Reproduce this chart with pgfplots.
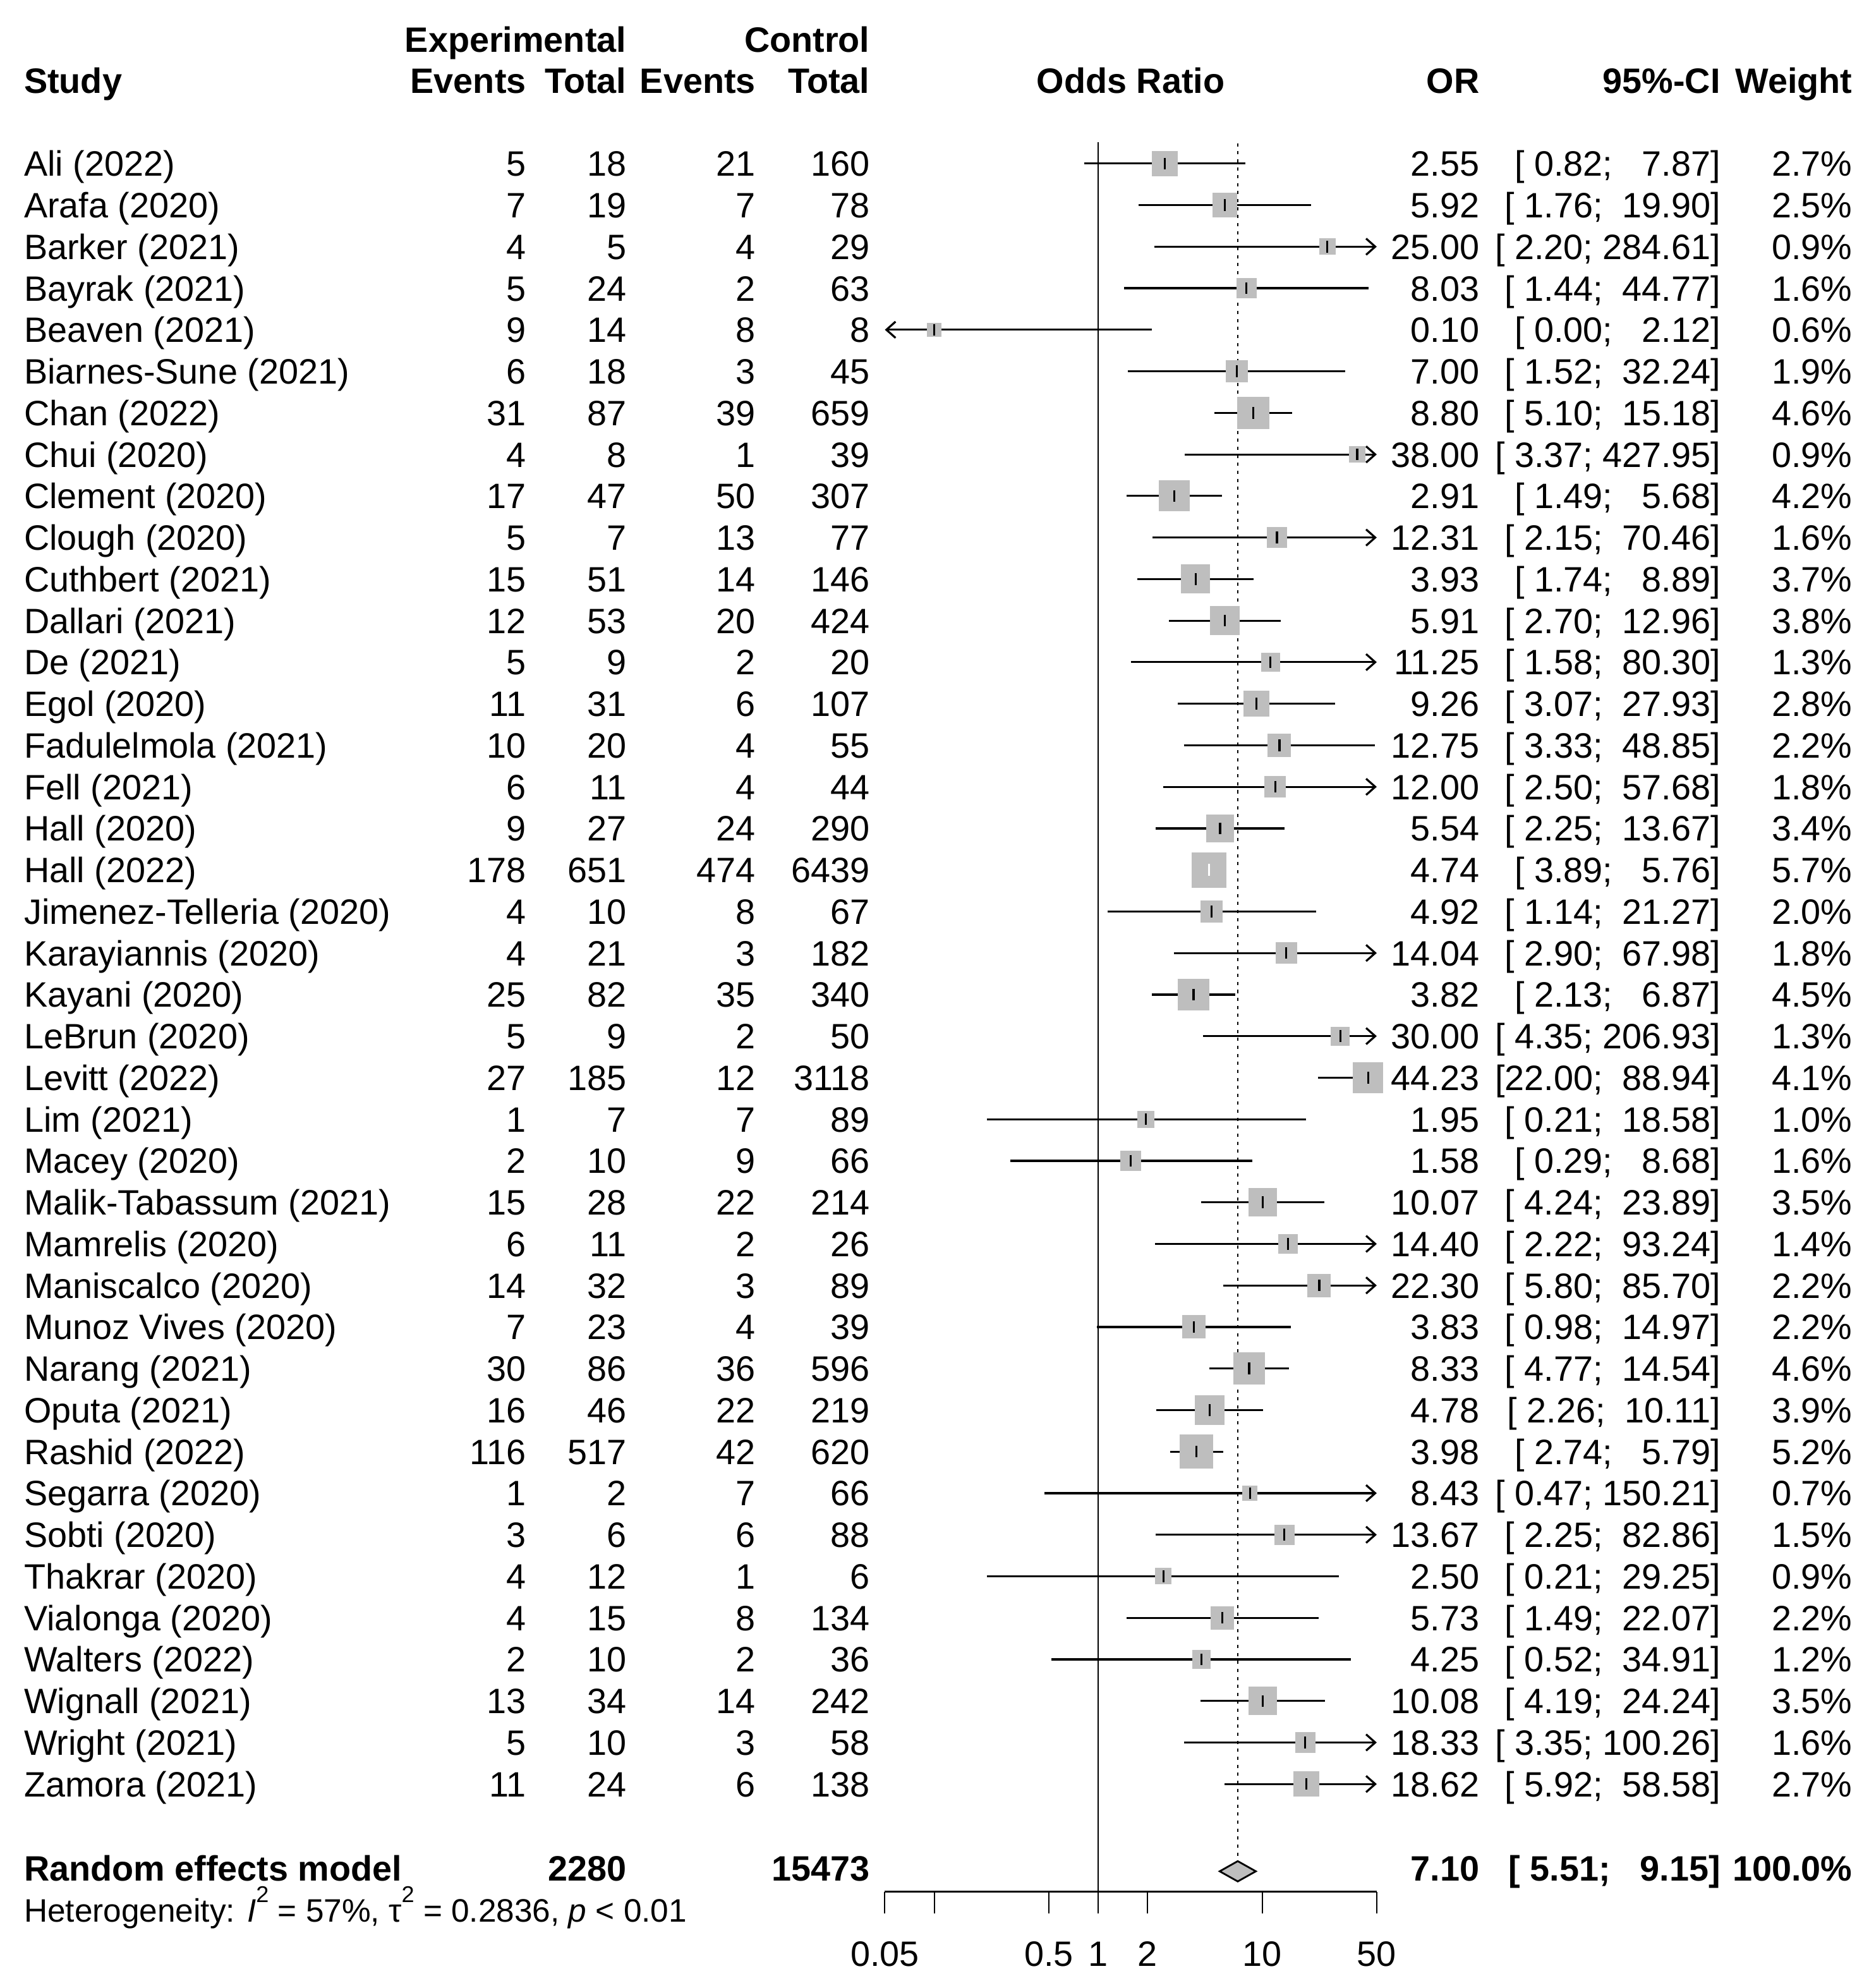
\documentclass[border=0pt]{standalone}
\usepackage{fontspec}
\setmainfont{Liberation Sans}
\usepackage{pgfplots}
\pgfplotsset{compat=1.18}
\usepackage{pgfplotstable}
\usetikzlibrary{arrows.meta}
\definecolor{rgray}{HTML}{BEBEBE}

\newcommand\fs{\fontsize{13.9}{16}\selectfont}
\newcommand\fh{\fontsize{12.8}{15}\selectfont}
\newcommand\sups[1]{\raisebox{0.6em}{\fontsize{9}{9}\selectfont #1}}

% study data: row index, OR, lower, upper, weight (%)
\pgfplotstableread{
i or lo hi w
0 2.55 0.82 7.87 2.7
1 5.92 1.76 19.90 2.5
2 25.00 2.20 284.61 0.9
3 8.03 1.44 44.77 1.6
4 0.10 0.00 2.12 0.6
5 7.00 1.52 32.24 1.9
6 8.80 5.10 15.18 4.6
7 38.00 3.37 427.95 0.9
8 2.91 1.49 5.68 4.2
9 12.31 2.15 70.46 1.6
10 3.93 1.74 8.89 3.7
11 5.91 2.70 12.96 3.8
12 11.25 1.58 80.30 1.3
13 9.26 3.07 27.93 2.8
14 12.75 3.33 48.85 2.2
15 12.00 2.50 57.68 1.8
16 5.54 2.25 13.67 3.4
17 4.74 3.89 5.76 5.7
18 4.92 1.14 21.27 2.0
19 14.04 2.90 67.98 1.8
20 3.82 2.13 6.87 4.5
21 30.00 4.35 206.93 1.3
22 44.23 22.00 88.94 4.1
23 1.95 0.21 18.58 1.0
24 1.58 0.29 8.68 1.6
25 10.07 4.24 23.89 3.5
26 14.40 2.22 93.24 1.4
27 22.30 5.80 85.70 2.2
28 3.83 0.98 14.97 2.2
29 8.33 4.77 14.54 4.6
30 4.78 2.26 10.11 3.9
31 3.98 2.74 5.79 5.2
32 8.43 0.47 150.21 0.7
33 13.67 2.25 82.86 1.5
34 2.50 0.21 29.25 0.9
35 5.73 1.49 22.07 2.2
36 4.25 0.52 34.91 1.2
37 10.08 4.19 24.24 3.5
38 18.33 3.35 100.26 1.6
39 18.62 5.92 58.58 2.7
}\studies

\newcommand\row[9]{%
  \pgfmathsetmacro\yb{139+32.77*#1}%
  \node[anchor=base west] at (19,\yb) {#2};
  \node[anchor=base east] at (415,\yb) {#3};
  \node[anchor=base east] at (494,\yb) {#4};
  \node[anchor=base east] at (596,\yb) {#5};
  \node[anchor=base east] at (686,\yb) {#6};
  \node[anchor=base east] at (1167,\yb) {#7};
  \node[anchor=base east] at (1357,\yb) {#8};
  \node[anchor=base east] at (1461,\yb) {#9};
}

\tikzset{ciline/.style={black, line width=0.8pt},
  rarr/.style={-{Straight Barb[length=3.6pt,width=6.4pt]}}}
\newcommand\ci[3]{\addplot[ciline] coordinates {(#2,-#1) (#3,-#1)};}
\newcommand\cir[2]{\addplot[ciline,rarr] coordinates {(#2,-#1) (50,-#1)};}
\newcommand\cil[2]{\addplot[ciline,rarr] coordinates {(#2,-#1) (0.05,-#1)};}

\begin{document}
\begin{tikzpicture}
\path[use as bounding box] (0,0) rectangle (737pt,-784pt);
\begin{scope}[x=0.5pt,y=-0.5pt, every node/.style={inner sep=0pt,outer sep=0pt,font=\fs}]
  % headers
  \node[anchor=base east,font=\fs\bfseries] at (494,41) {Experimental};
  \node[anchor=base east,font=\fs\bfseries] at (686,41) {Control};
  \node[anchor=base west,font=\fs\bfseries] at (19,73.5) {Study};
  \node[anchor=base east,font=\fs\bfseries] at (415,73.5) {Events};
  \node[anchor=base east,font=\fs\bfseries] at (494,73.5) {Total};
  \node[anchor=base east,font=\fs\bfseries] at (596,73.5) {Events};
  \node[anchor=base east,font=\fs\bfseries] at (686,73.5) {Total};
  \node[anchor=base,font=\fs\bfseries] at (892,73.5) {Odds Ratio};
  \node[anchor=base east,font=\fs\bfseries] at (1167,73.5) {OR};
  \node[anchor=base east,font=\fs\bfseries] at (1357,73.5) {95\%-CI};
  \node[anchor=base east,font=\fs\bfseries] at (1461,73.5) {Weight};
  % studies
  \row{0}{Ali (2022)}{5}{18}{21}{160}{2.55}{[~0.82;~~~7.87]}{2.7\%}
  \row{1}{Arafa (2020)}{7}{19}{7}{78}{5.92}{[~1.76;~~19.90]}{2.5\%}
  \row{2}{Barker (2021)}{4}{5}{4}{29}{25.00}{[~2.20;~284.61]}{0.9\%}
  \row{3}{Bayrak (2021)}{5}{24}{2}{63}{8.03}{[~1.44;~~44.77]}{1.6\%}
  \row{4}{Beaven (2021)}{9}{14}{8}{8}{0.10}{[~0.00;~~~2.12]}{0.6\%}
  \row{5}{Biarnes-Sune (2021)}{6}{18}{3}{45}{7.00}{[~1.52;~~32.24]}{1.9\%}
  \row{6}{Chan (2022)}{31}{87}{39}{659}{8.80}{[~5.10;~~15.18]}{4.6\%}
  \row{7}{Chui (2020)}{4}{8}{1}{39}{38.00}{[~3.37;~427.95]}{0.9\%}
  \row{8}{Clement (2020)}{17}{47}{50}{307}{2.91}{[~1.49;~~~5.68]}{4.2\%}
  \row{9}{Clough (2020)}{5}{7}{13}{77}{12.31}{[~2.15;~~70.46]}{1.6\%}
  \row{10}{Cuthbert (2021)}{15}{51}{14}{146}{3.93}{[~1.74;~~~8.89]}{3.7\%}
  \row{11}{Dallari (2021)}{12}{53}{20}{424}{5.91}{[~2.70;~~12.96]}{3.8\%}
  \row{12}{De (2021)}{5}{9}{2}{20}{11.25}{[~1.58;~~80.30]}{1.3\%}
  \row{13}{Egol (2020)}{11}{31}{6}{107}{9.26}{[~3.07;~~27.93]}{2.8\%}
  \row{14}{Fadulelmola (2021)}{10}{20}{4}{55}{12.75}{[~3.33;~~48.85]}{2.2\%}
  \row{15}{Fell (2021)}{6}{11}{4}{44}{12.00}{[~2.50;~~57.68]}{1.8\%}
  \row{16}{Hall (2020)}{9}{27}{24}{290}{5.54}{[~2.25;~~13.67]}{3.4\%}
  \row{17}{Hall (2022)}{178}{651}{474}{6439}{4.74}{[~3.89;~~~5.76]}{5.7\%}
  \row{18}{Jimenez-Telleria (2020)}{4}{10}{8}{67}{4.92}{[~1.14;~~21.27]}{2.0\%}
  \row{19}{Karayiannis (2020)}{4}{21}{3}{182}{14.04}{[~2.90;~~67.98]}{1.8\%}
  \row{20}{Kayani (2020)}{25}{82}{35}{340}{3.82}{[~2.13;~~~6.87]}{4.5\%}
  \row{21}{LeBrun (2020)}{5}{9}{2}{50}{30.00}{[~4.35;~206.93]}{1.3\%}
  \row{22}{Levitt (2022)}{27}{185}{12}{3118}{44.23}{[22.00;~~88.94]}{4.1\%}
  \row{23}{Lim (2021)}{1}{7}{7}{89}{1.95}{[~0.21;~~18.58]}{1.0\%}
  \row{24}{Macey (2020)}{2}{10}{9}{66}{1.58}{[~0.29;~~~8.68]}{1.6\%}
  \row{25}{Malik-Tabassum (2021)}{15}{28}{22}{214}{10.07}{[~4.24;~~23.89]}{3.5\%}
  \row{26}{Mamrelis (2020)}{6}{11}{2}{26}{14.40}{[~2.22;~~93.24]}{1.4\%}
  \row{27}{Maniscalco (2020)}{14}{32}{3}{89}{22.30}{[~5.80;~~85.70]}{2.2\%}
  \row{28}{Munoz Vives (2020)}{7}{23}{4}{39}{3.83}{[~0.98;~~14.97]}{2.2\%}
  \row{29}{Narang (2021)}{30}{86}{36}{596}{8.33}{[~4.77;~~14.54]}{4.6\%}
  \row{30}{Oputa (2021)}{16}{46}{22}{219}{4.78}{[~2.26;~~10.11]}{3.9\%}
  \row{31}{Rashid (2022)}{116}{517}{42}{620}{3.98}{[~2.74;~~~5.79]}{5.2\%}
  \row{32}{Segarra (2020)}{1}{2}{7}{66}{8.43}{[~0.47;~150.21]}{0.7\%}
  \row{33}{Sobti (2020)}{3}{6}{6}{88}{13.67}{[~2.25;~~82.86]}{1.5\%}
  \row{34}{Thakrar (2020)}{4}{12}{1}{6}{2.50}{[~0.21;~~29.25]}{0.9\%}
  \row{35}{Vialonga (2020)}{4}{15}{8}{134}{5.73}{[~1.49;~~22.07]}{2.2\%}
  \row{36}{Walters (2022)}{2}{10}{2}{36}{4.25}{[~0.52;~~34.91]}{1.2\%}
  \row{37}{Wignall (2021)}{13}{34}{14}{242}{10.08}{[~4.19;~~24.24]}{3.5\%}
  \row{38}{Wright (2021)}{5}{10}{3}{58}{18.33}{[~3.35;~100.26]}{1.6\%}
  \row{39}{Zamora (2021)}{11}{24}{6}{138}{18.62}{[~5.92;~~58.58]}{2.7\%}
  % summary
  \node[anchor=base west,font=\fs\bfseries] at (19,1483.5) {Random effects model};
  \node[anchor=base east,font=\fs\bfseries] at (494,1483.5) {2280};
  \node[anchor=base east,font=\fs\bfseries] at (686,1483.5) {15473};
  \node[anchor=base east,font=\fs\bfseries] at (1167,1483.5) {7.10};
  \node[anchor=base east,font=\fs\bfseries] at (1357,1483.5) {[~5.51;~~~9.15]};
  \node[anchor=base east,font=\fs\bfseries] at (1461,1483.5) {100.0\%};
  \node[anchor=base west,font=\fh] at (19,1516) {Heterogeneity: \textit{I}\sups{2} = 57\%, τ\sups{2} = 0.2836, \textit{p} < 0.01};
\end{scope}

\begin{axis}[
  at={(349pt,-56pt)}, anchor=north west,
  scale only axis, width=194pt, height=690pt,
  xmode=log, xmin=0.05, xmax=50, ymin=-41.59, ymax=0.519,
  axis x line*=bottom, axis y line=none,
  x axis line style={line width=0.7pt,-},
  xtick={0.05,0.1,0.5,1,2,10,50},
  xticklabels={0.05,,0.5,1,2,10,50},
  xminorticks=false,
  tick align=outside, major tick length=8.5pt,
  tick style={black, line width=0.5pt},
  xticklabel style={font=\fs, anchor=base, inner sep=0pt, yshift=-21pt},
  clip=false,
]
% reference lines
\addplot[black, line width=0.5pt] coordinates {(1,0.519) (1,-41.59)};
\addplot[black, line width=0.6pt, dash pattern=on 1.25pt off 1.9pt] coordinates {(7.10,0.49) (7.10,-40.77)};
% squares
\addplot[only marks, scatter, mark=square*,
  scatter/use mapped color={draw=rgray, fill=rgray},
  visualization depends on={0.6+2.575*sqrt(\thisrow{w}) \as \msz},
  scatter/@pre marker code/.append style={/tikz/mark size=\msz}]
  table[x=or, y expr=-\thisrow{i}] {\studies};
% confidence intervals
\ci{0}{0.82}{7.87}
\ci{1}{1.76}{19.90}
\cir{2}{2.20}
\ci{3}{1.44}{44.77}
\cil{4}{2.12}
\ci{5}{1.52}{32.24}
\ci{6}{5.10}{15.18}
\cir{7}{3.37}
\ci{8}{1.49}{5.68}
\cir{9}{2.15}
\ci{10}{1.74}{8.89}
\ci{11}{2.70}{12.96}
\cir{12}{1.58}
\ci{13}{3.07}{27.93}
\ci{14}{3.33}{48.85}
\cir{15}{2.50}
\ci{16}{2.25}{13.67}
\ci{18}{1.14}{21.27}
\cir{19}{2.90}
\ci{20}{2.13}{6.87}
\cir{21}{4.35}
\cir{22}{22.00}
\ci{23}{0.21}{18.58}
\ci{24}{0.29}{8.68}
\ci{25}{4.24}{23.89}
\cir{26}{2.22}
\cir{27}{5.80}
\ci{28}{0.98}{14.97}
\ci{29}{4.77}{14.54}
\ci{30}{2.26}{10.11}
\ci{31}{2.74}{5.79}
\cir{32}{0.47}
\cir{33}{2.25}
\ci{34}{0.21}{29.25}
\ci{35}{1.49}{22.07}
\ci{36}{0.52}{34.91}
\ci{37}{4.19}{24.24}
\cir{38}{3.35}
\cir{39}{5.92}
% point estimate ticks
\addplot[only marks, mark=|, mark size=2.3pt, mark options={black, line width=0.8pt}]
  table[x=or, y expr=-\thisrow{i}] {\studies};
% Hall (2022): CI inside its box, drawn white
\addplot[white, line width=0.8pt] coordinates {(3.89,-17) (5.76,-17)};
\addplot[only marks, mark=|, mark size=2.3pt, mark options={white, line width=0.8pt}] coordinates {(4.74,-17)};
% summary diamond
\addplot[fill=rgray, draw=black, line width=0.7pt] coordinates {(5.51,-41.1) (7.10,-40.856) (9.15,-41.1) (7.10,-41.344)} -- cycle;
\end{axis}
\end{tikzpicture}
\end{document}
